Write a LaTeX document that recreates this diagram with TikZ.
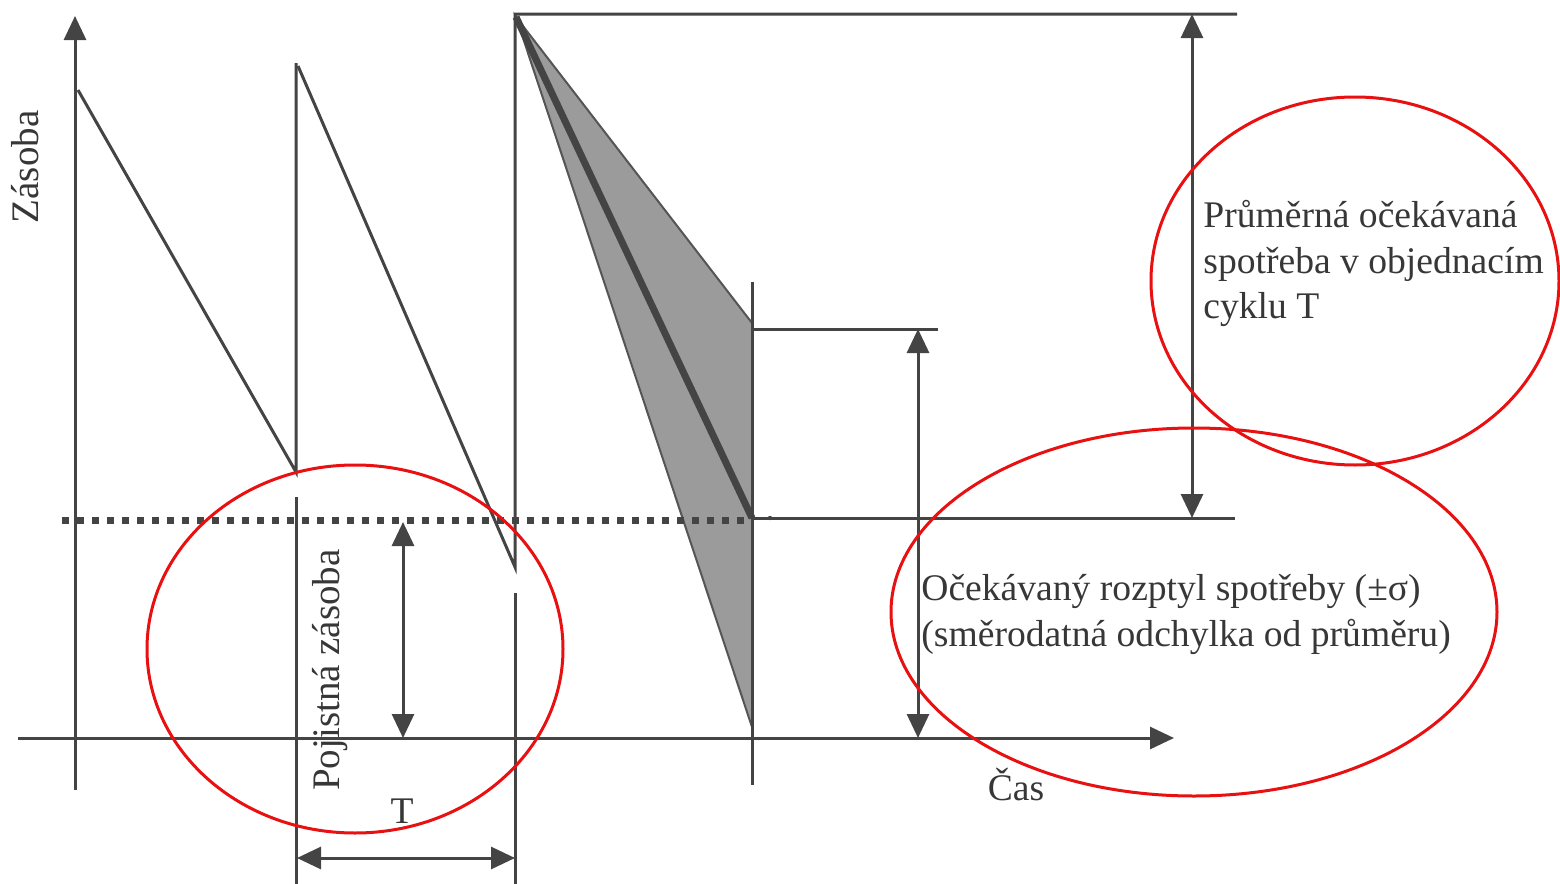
\documentclass[tikz,border=0pt]{standalone}
\usepackage{fontspec}
\setmainfont{Liberation Serif}
\usetikzlibrary{arrows.meta}
\definecolor{ink}{RGB}{68,68,68}
\definecolor{txt}{RGB}{55,55,55}
\definecolor{fan}{RGB}{155,155,155}
\definecolor{redink}{RGB}{232,16,16}
\begin{document}
\begin{tikzpicture}[x=0.5pt,y=-0.5pt,
  ln/.style={draw=ink, line width=1.5pt},
  arr/.style={ln, -{Triangle[length=12pt,width=11pt]}},
  darr/.style={ln, {Triangle[length=12pt,width=11pt]}-{Triangle[length=12pt,width=11pt]}},
  lbl/.style={font=\fontsize{18.8}{22}\selectfont, text=txt, inner sep=0pt},
  ring/.style={draw=redink, line width=1.5pt}]
\useasboundingbox (0,0) rectangle (1560,884);
% coordinates
\coordinate (yb) at (75,790);
\coordinate (yt) at (75,16);
\coordinate (xl) at (18,738);
\coordinate (xr) at (1174,738);
\coordinate (a1) at (78,90);
\coordinate (b1) at (296,472);
\coordinate (c1) at (296,63);
\coordinate (d1) at (296,497);
\coordinate (e1) at (296,884);
\coordinate (a2) at (298,66);
\coordinate (b2) at (515,567);
\coordinate (c2) at (515,14);
\coordinate (d2) at (515,593);
\coordinate (e2) at (515,884);
\coordinate (apex) at (516,17);
\coordinate (fup) at (752,323);
\coordinate (flow) at (752,727);
\coordinate (fmid) at (752,518);
\coordinate (v3t) at (752,282);
\coordinate (v3b) at (752,785);
\coordinate (h1l) at (752,329);
\coordinate (h1r) at (938,329);
\coordinate (s1t) at (918,329);
\coordinate (s1b) at (918,738);
\coordinate (topr) at (1237,14);
\coordinate (m1t) at (1192,14);
\coordinate (m1b) at (1192,518);
\coordinate (h2r) at (1235,518);
\coordinate (dl) at (62,520);
\coordinate (dr) at (752,520);
\coordinate (pzt) at (403,522);
\coordinate (pzb) at (403,738);
\coordinate (tl) at (297,858);
\coordinate (tr) at (515,858);
% fan
\fill[fan] (apex) -- (fup) -- (flow) -- cycle;
\draw[draw=ink!80!fan, line width=1pt] (fup) -- (apex) -- (flow);
% axes
\draw[arr] (yb) -- (yt);
\draw[arr] (xl) -- (xr);
% sawtooth
\draw[ln] (a1) -- (b1) -- (c1);
\draw[ln] (d1) -- (e1);
\draw[ln] (a2) -- (b2) -- (c2) -- (topr);
\draw[ln] (d2) -- (e2);
\draw[ln] (v3t) -- (v3b);
\draw[draw=ink, line width=3.5pt] (apex) -- (fmid);
% helper lines
\draw[ln] (h1l) -- (h1r);
\draw[ln] (fmid) -- (h2r);
\draw[draw=ink, line width=3.5pt, dash pattern=on 3.5pt off 4pt] (dl) -- (dr);
\fill[ink] (770,518) circle [radius=2.2];
% double arrows
\draw[darr] (s1t) -- (s1b);
\draw[darr] (m1t) -- (m1b);
\draw[darr] (pzt) -- (pzb);
\draw[darr] (tl) -- (tr);
% labels
\node[lbl, font=\fontsize{19.5}{22}\selectfont, rotate=90, anchor=base] (zas) at (39,167) {Zásoba};
\node[lbl, font=\fontsize{19.5}{22}\selectfont, rotate=90, anchor=base] (poj) at (339,670) {Pojistná zásoba};
\node[lbl, anchor=base] (tlab) at (402,823) {T};
\node[lbl, anchor=base] (cas) at (1016,800) {Čas};
\node[lbl, anchor=base west] (p1) at (1203,227) {Průměrná očekávaná};
\node[lbl, anchor=base west] (p2) at (1203,273) {spotřeba v objednacím};
\node[lbl, anchor=base west] (p3) at (1203,318) {cyklu T};
\node[lbl, anchor=base west] (o1) at (921,600) {Očekávaný rozptyl spotřeby (±σ)};
\node[lbl, anchor=base west] (o2) at (921,646) {(směrodatná odchylka od průměru)};
% red rings
\draw[ring] (355,649) ellipse [x radius=208, y radius=184];
\draw[ring] (1355,281) ellipse [x radius=204, y radius=184];
\draw[ring] (1194,612) ellipse [x radius=303, y radius=184];
\end{tikzpicture}
\end{document}
